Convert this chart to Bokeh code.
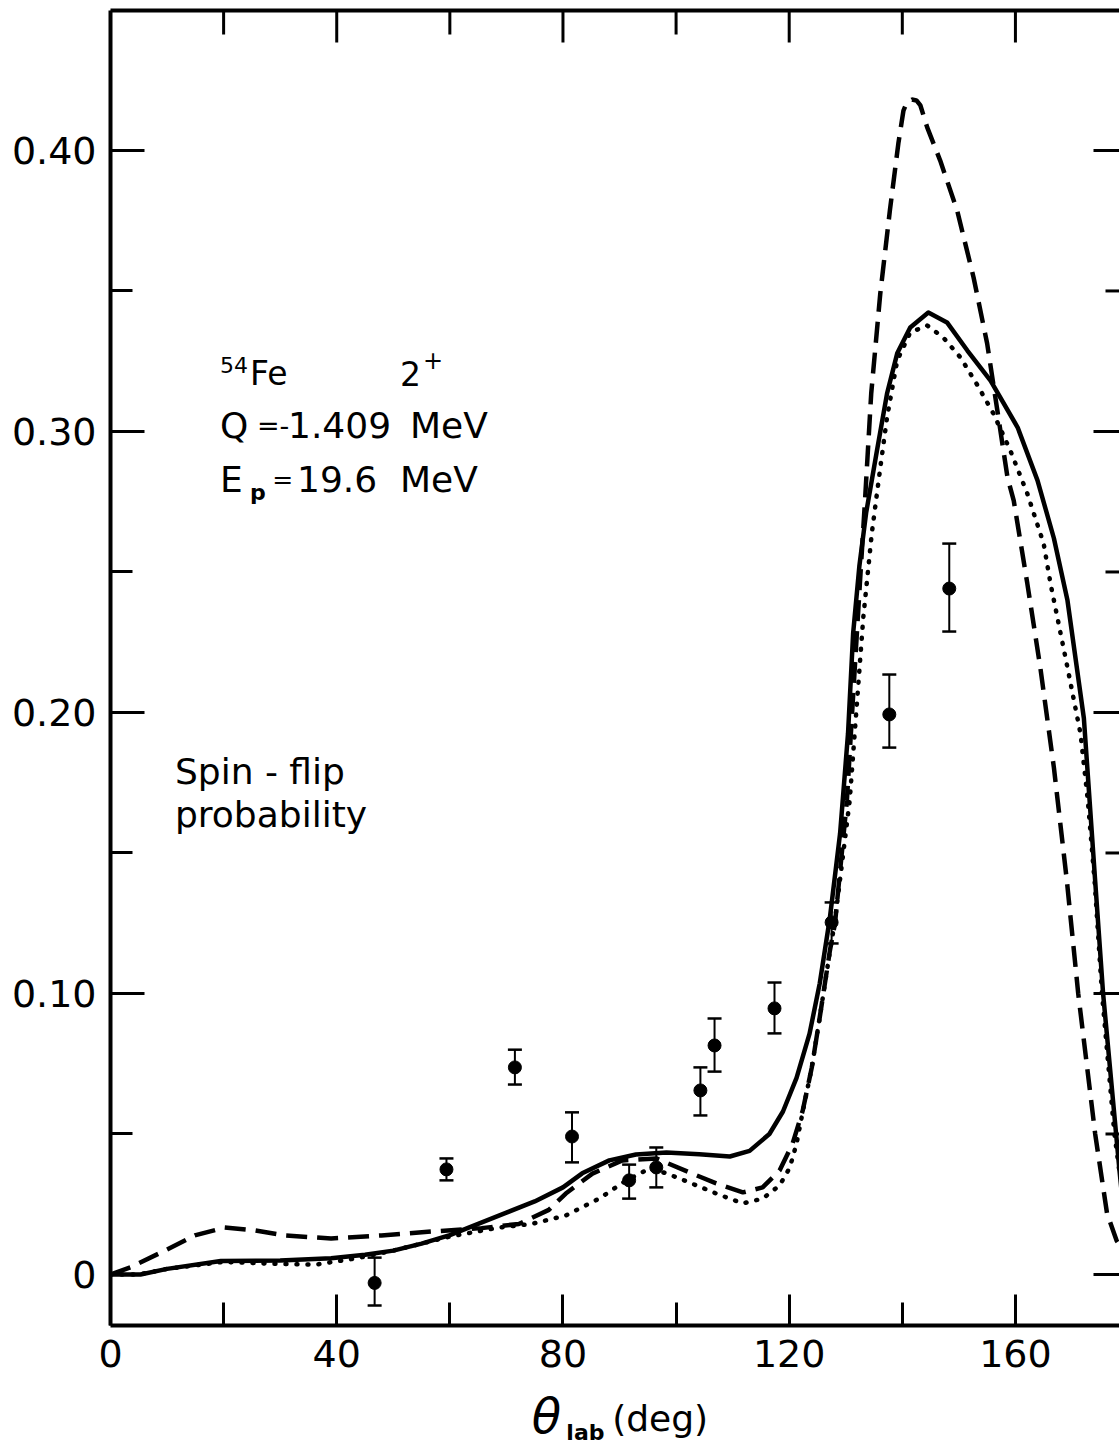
import numpy as np
from bokeh.plotting import figure
from bokeh.layouts import column
from bokeh.models import (Range1d, LinearAxis, FixedTicker, Whisker, TeeHead,
                          ColumnDataSource, Label)
from bokeh.core.properties import value
from bokeh.embed import file_html
from bokeh.resources import INLINE

FONT = "DejaVu Sans"

# --- measured spin-flip probabilities (theta_lab in deg) ---
exp_theta = [46.7, 59.4, 71.5, 81.6, 91.7, 96.5, 104.3, 106.8, 117.4, 127.5, 137.7, 148.3]
exp_s = [-0.003, 0.0374, 0.0737, 0.0491, 0.0335, 0.0381, 0.0655, 0.0815, 0.0947, 0.1253, 0.1993, 0.2441]
exp_hi = [0.006, 0.0413, 0.0800, 0.0577, 0.0391, 0.0452, 0.0737, 0.0911, 0.1039, 0.1324, 0.2135, 0.2601]
exp_lo = [-0.011, 0.0335, 0.0676, 0.0399, 0.0270, 0.0310, 0.0566, 0.0722, 0.0858, 0.1178, 0.1875, 0.2288]

# --- calculations ---
solid_theta = [0, 5.3, 10, 19.5, 30, 39, 45, 50, 55, 60, 65, 70, 75, 80, 83.4, 88.2, 92.9,
               98.3, 104.1, 109.5, 113, 116.5, 118.9, 121.3, 123.6, 125.4, 127.2, 129,
               130.4, 131.3, 132.4, 133.6, 135.5, 137.3, 139.1, 141.4, 144.6, 147.9,
               151.5, 155.6, 160.4, 163.9, 166.8, 169.2, 172.1, 174.1, 175.5, 177.8,
               178.4, 180]
solid_s = [0, 0, 0.002, 0.0048, 0.005, 0.0058, 0.007, 0.0085, 0.011, 0.014, 0.018, 0.022,
           0.026, 0.031, 0.036, 0.0406, 0.0427, 0.0434, 0.0428, 0.042, 0.044, 0.050, 0.058,
           0.070, 0.0857, 0.1036, 0.127, 0.157, 0.1925, 0.228, 0.252, 0.271, 0.293,
           0.3135, 0.3278, 0.337, 0.3423, 0.3388, 0.3288, 0.3181, 0.3014, 0.2826, 0.262,
           0.2399, 0.198, 0.140, 0.100, 0.050, 0.037, 0.005]

dash_theta = [0, 3.5, 9.6, 14.9, 20.2, 25.5, 30.8, 39, 47.9, 56.8, 65.6, 72.2, 77.5, 80.5,
              85.2, 90.5, 96.5, 102.4, 107.1, 111.8, 115.3, 118.3, 120.6, 122.4, 124, 125.4,
              127.2, 128.1, 130.2, 131.6, 132.5, 133.4, 134.5, 136.1, 137.8, 139.3, 140.2,
              140.8, 141.7, 142.5, 143.2, 144.4, 146.7, 149.7, 152.6, 155, 156.8, 158.6,
              159.7, 162.1, 164.4, 166.8, 169.1, 171.1, 172.6, 174.1, 176.2, 177.9, 180]
dash_s = [0, 0.0025, 0.0085, 0.0139, 0.0167, 0.0157, 0.0139, 0.0128, 0.0139, 0.0153, 0.0165,
          0.018, 0.023, 0.0288, 0.0359, 0.0406, 0.0413, 0.0363, 0.0324, 0.0292, 0.031, 0.037,
          0.0466, 0.0584, 0.0737, 0.0915, 0.1153, 0.125, 0.1687, 0.216, 0.2459, 0.2754,
          0.3135, 0.349, 0.3786, 0.4025, 0.4142, 0.4170, 0.4181, 0.4178, 0.416, 0.4082,
          0.3964, 0.3786, 0.3548, 0.3313, 0.3075, 0.2836, 0.2754, 0.2459, 0.216, 0.1804,
          0.140, 0.100, 0.075, 0.050, 0.0217, 0.012, 0.006]

dot_theta = [0, 5, 10, 20, 27.3, 36.2, 43.3, 50, 60, 68.7, 74.5, 80.5, 86.4, 91.2, 95.3,
             98.3, 102.4, 107.1, 111.8, 115.3, 118.3, 120.1, 121.3, 122.4, 124, 125.4,
             127.2, 128.1, 130.7, 132, 133.1, 134.6, 136.1, 137.3, 139.1, 141.4, 144.4,
             147.2, 150.3, 153.3, 156.1, 159.1, 162.1, 165, 166.2, 169.2, 171.5, 172.8,
             174.0, 175.3, 177.5, 178.5]
dot_s = [0, 0, 0.002, 0.0045, 0.0039, 0.0035, 0.0057, 0.0085, 0.0135, 0.0167, 0.018, 0.021,
         0.027, 0.0335, 0.0377, 0.036, 0.0327, 0.0288, 0.0253, 0.027, 0.0317, 0.038, 0.0466,
         0.058, 0.0737, 0.0915, 0.115, 0.126, 0.1687, 0.204, 0.2338, 0.2637, 0.2870, 0.3050,
         0.3253, 0.3352, 0.3377, 0.3335, 0.3263, 0.3164, 0.3064, 0.2932, 0.2779, 0.260,
         0.2459, 0.216, 0.1925, 0.1687, 0.140, 0.100, 0.050, 0.035]

x_major = [0, 40, 80, 120, 160]
x_minor = [20, 60, 100, 140, 180]
y_major = [0, 0.1, 0.2, 0.3, 0.4]
y_minor = [0.05, 0.15, 0.25, 0.35]
y_labels = {0: "0", 0.1: "0.10", 0.2: "0.20", 0.3: "0.30", 0.4: "0.40"}

p = figure(width=1119, height=1385,
           x_range=Range1d(0, 178.4), y_range=Range1d(-0.01815, 0.4498),
           x_axis_location=None, y_axis_location=None,
           output_backend="svg", toolbar_location=None,
           min_border_left=110, min_border_right=0, min_border_top=10, min_border_bottom=60)
p.outline_line_color = None
p.xgrid.grid_line_color = None
p.ygrid.grid_line_color = None
p.background_fill_color = "white"
p.border_fill_color = "white"


def style_axis(ax, tin, tmin):
    ax.major_tick_in = tin
    ax.major_tick_out = 0
    ax.minor_tick_in = tmin
    ax.minor_tick_out = 0
    ax.major_tick_line_width = 3
    ax.minor_tick_line_width = 3
    ax.major_tick_line_color = "black"
    ax.minor_tick_line_color = "black"
    ax.axis_line_width = 4
    ax.axis_line_color = "black"
    ax.major_label_text_font = FONT
    ax.major_label_text_font_size = "38px"
    ax.major_label_text_color = "black"
    ax.major_label_standoff = 14


xb = LinearAxis(ticker=FixedTicker(ticks=x_major, minor_ticks=x_minor))
style_axis(xb, 31, 23)
p.add_layout(xb, "below")

yl = LinearAxis(ticker=FixedTicker(ticks=y_major, minor_ticks=y_minor),
                major_label_overrides=y_labels)
style_axis(yl, 34, 22)
p.add_layout(yl, "left")

# top frame line (no ticks on the axis itself)
xt = LinearAxis(ticker=FixedTicker(ticks=[], minor_ticks=[]))
xt.axis_line_width = 4
xt.axis_line_color = "black"
xt.major_tick_out = 0
xt.minor_tick_out = 0
p.add_layout(xt, "above")

# inward ticks along the top and right edges (outer half falls outside the frame)
top = p.y_range.end
right = p.x_range.end
tick_kw = dict(marker="dash", line_color="black", line_width=3)
p.scatter(x_major, [top] * len(x_major), size=64, angle=np.pi / 2, **tick_kw)
p.scatter(x_minor, [top] * len(x_minor), size=48, angle=np.pi / 2, **tick_kw)
p.scatter([right] * len(y_major), y_major, size=52, **tick_kw)
p.scatter([right] * len(y_minor), y_minor, size=28, **tick_kw)

# curves
p.line(solid_theta, solid_s, line_color="black", line_width=4.5, line_join="round")
p.line(dash_theta, dash_s, line_color="black", line_width=4.5, line_dash="21 10")
p.line(dot_theta, dot_s, line_color="black", line_width=4.5, line_dash="1 10",
       line_cap="round")

# data points with error bars
src = ColumnDataSource(dict(x=exp_theta, y=exp_s, hi=exp_hi, lo=exp_lo))
p.add_layout(Whisker(base="x", upper="hi", lower="lo", source=src, dimension="height",
                     line_color="black", line_width=2,
                     upper_head=TeeHead(size=14, line_width=2.5, line_color="black"),
                     lower_head=TeeHead(size=14, line_width=2.5, line_color="black")))
p.scatter("x", "y", source=src, size=13, color="black")


def lab(x, y, text, size, style="normal"):
    p.add_layout(Label(x=x, y=y, text=text, text_font=FONT, text_font_size=size,
                       text_font_style=style, text_color="black", text_align="left",
                       text_baseline="middle"))


# annotation block
lab(19.36, 0.3238, "54", "22px")
lab(24.66, 0.3206, "Fe", "33px")
lab(51.18, 0.3206, "2", "33px")
lab(55.25, 0.3255, "+", "24px")
lab(19.36, 0.3022, "Q", "36px")
lab(25.90, 0.3022, "=-", "27px")
lab(31.38, 0.3022, "1.409", "36px")
lab(52.95, 0.3022, "MeV", "36px")
lab(19.36, 0.2830, "E", "36px")
lab(24.66, 0.2784, "p", "22px", "bold")
lab(28.60, 0.2830, "=", "25px")
lab(32.97, 0.2830, "19.6", "36px")
lab(51.18, 0.2830, "MeV", "36px")
lab(11.40, 0.1790, "Spin - flip", "36px")
lab(11.40, 0.1636, "probability", "36px")

# axis title strip below the chart: theta_lab (deg)
title_x = [74.5, 80.6, 88.7]
title_y = [34, 17, 31]
title_txt = ["θ", "lab", "(deg)"]
title_size = ["48px", "22px", "36px"]
title_style = ["italic", "bold", "normal"]

q = figure(width=1119, height=64, x_range=p.x_range, y_range=Range1d(0, 64),
           x_axis_location=None, y_axis_location=None,
           output_backend="svg", toolbar_location=None,
           min_border_left=110, min_border_right=0, min_border_top=0, min_border_bottom=0)
q.outline_line_color = None
q.xgrid.grid_line_color = None
q.ygrid.grid_line_color = None
tsrc = ColumnDataSource(dict(x=title_x, y=title_y, t=title_txt, s=title_size, f=title_style))
q.text("x", "y", text="t", source=tsrc, text_font=value(FONT), text_font_size="s",
       text_font_style="f", text_color="black", text_align="left", text_baseline="middle")

layout = column(p, q, spacing=0)
open("out.html", "w").write(file_html(layout, INLINE))
